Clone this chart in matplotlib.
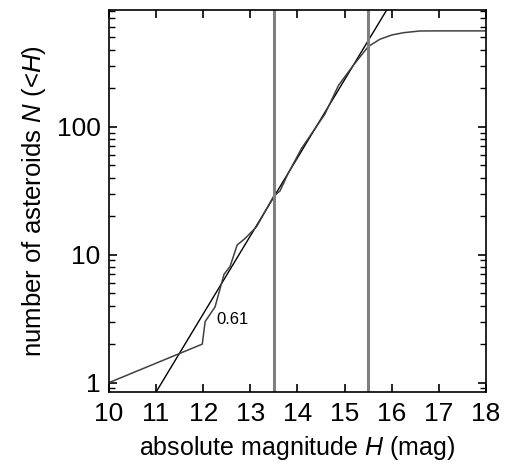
import numpy as np
import matplotlib
matplotlib.use('Agg')
import matplotlib.pyplot as plt
from matplotlib.ticker import LogLocator, NullFormatter, FixedLocator, FixedFormatter

plt.rcParams['font.family'] = ['Liberation Sans', 'DejaVu Sans']
plt.rcParams['mathtext.fontset'] = 'custom'
plt.rcParams['mathtext.rm'] = 'Liberation Sans'
plt.rcParams['mathtext.it'] = 'Liberation Sans:italic'

# cumulative number of asteroids vs absolute magnitude
H = [10.0, 11.98, 12.04, 12.25, 12.44, 12.57, 12.72, 12.89, 13.13, 13.49, 13.63,
     13.8, 14.09, 14.35, 14.58, 14.87, 15.18, 15.5, 15.75, 16.0, 16.25, 16.6, 17.0, 18.0]
N = [1.0, 2.0, 3.0, 3.9, 7.0, 8.1, 11.9, 13.4, 16.5, 28.4, 31.5,
     43.0, 68.0, 94.0, 125.0, 210.0, 300.0, 422.0, 482.0, 520.0, 542.0, 559.0, 560.0, 560.0]

# power-law fit: log10 N = slope * H + intercept
slope = 0.61
intercept = -6.783
fit_H = [10.5, 16.5]

vlines = [13.5, 15.5]

fig = plt.figure(figsize=(5.05, 4.66), dpi=100)
ax = fig.add_axes([0.2158, 0.1588, 0.7466, 0.8197])

fit_H = np.array(fit_H)
ax.plot(fit_H, 10 ** (slope * fit_H + intercept), color='black', lw=1.0)
ax.plot(H, N, color='#404040', lw=1.1)
for v in vlines:
    ax.axvline(v, color='#808080', lw=2.2)

ax.text(12.63, 3.14, '0.61', fontsize=12, ha='center', va='center')

ax.set_yscale('log')
ax.set_xlim(10, 18)
ax.set_ylim(0.845, 815)
ax.xaxis.set_major_locator(FixedLocator(range(10, 19)))
ax.yaxis.set_major_locator(FixedLocator([1, 10, 100]))
ax.yaxis.set_major_formatter(FixedFormatter(['1', '10', '100']))
ax.yaxis.set_minor_locator(LogLocator(base=10, subs=np.arange(2, 10)))
ax.yaxis.set_minor_formatter(NullFormatter())

ax.tick_params(which='both', direction='in', top=True, right=True, labelsize=19)
ax.tick_params(which='major', length=6, width=1.2)
ax.tick_params(which='minor', length=4, width=1)
ax.tick_params(axis='x', pad=7)
ax.tick_params(axis='y', pad=6)
for s in ax.spines.values():
    s.set_linewidth(1.2)

ax.set_xlabel('absolute magnitude $H$ (mag)', fontsize=18, labelpad=6)
ax.set_ylabel('number of asteroids $N$ (<$H$)', fontsize=18.5, labelpad=6)

fig.savefig('out.png', dpi=100)
